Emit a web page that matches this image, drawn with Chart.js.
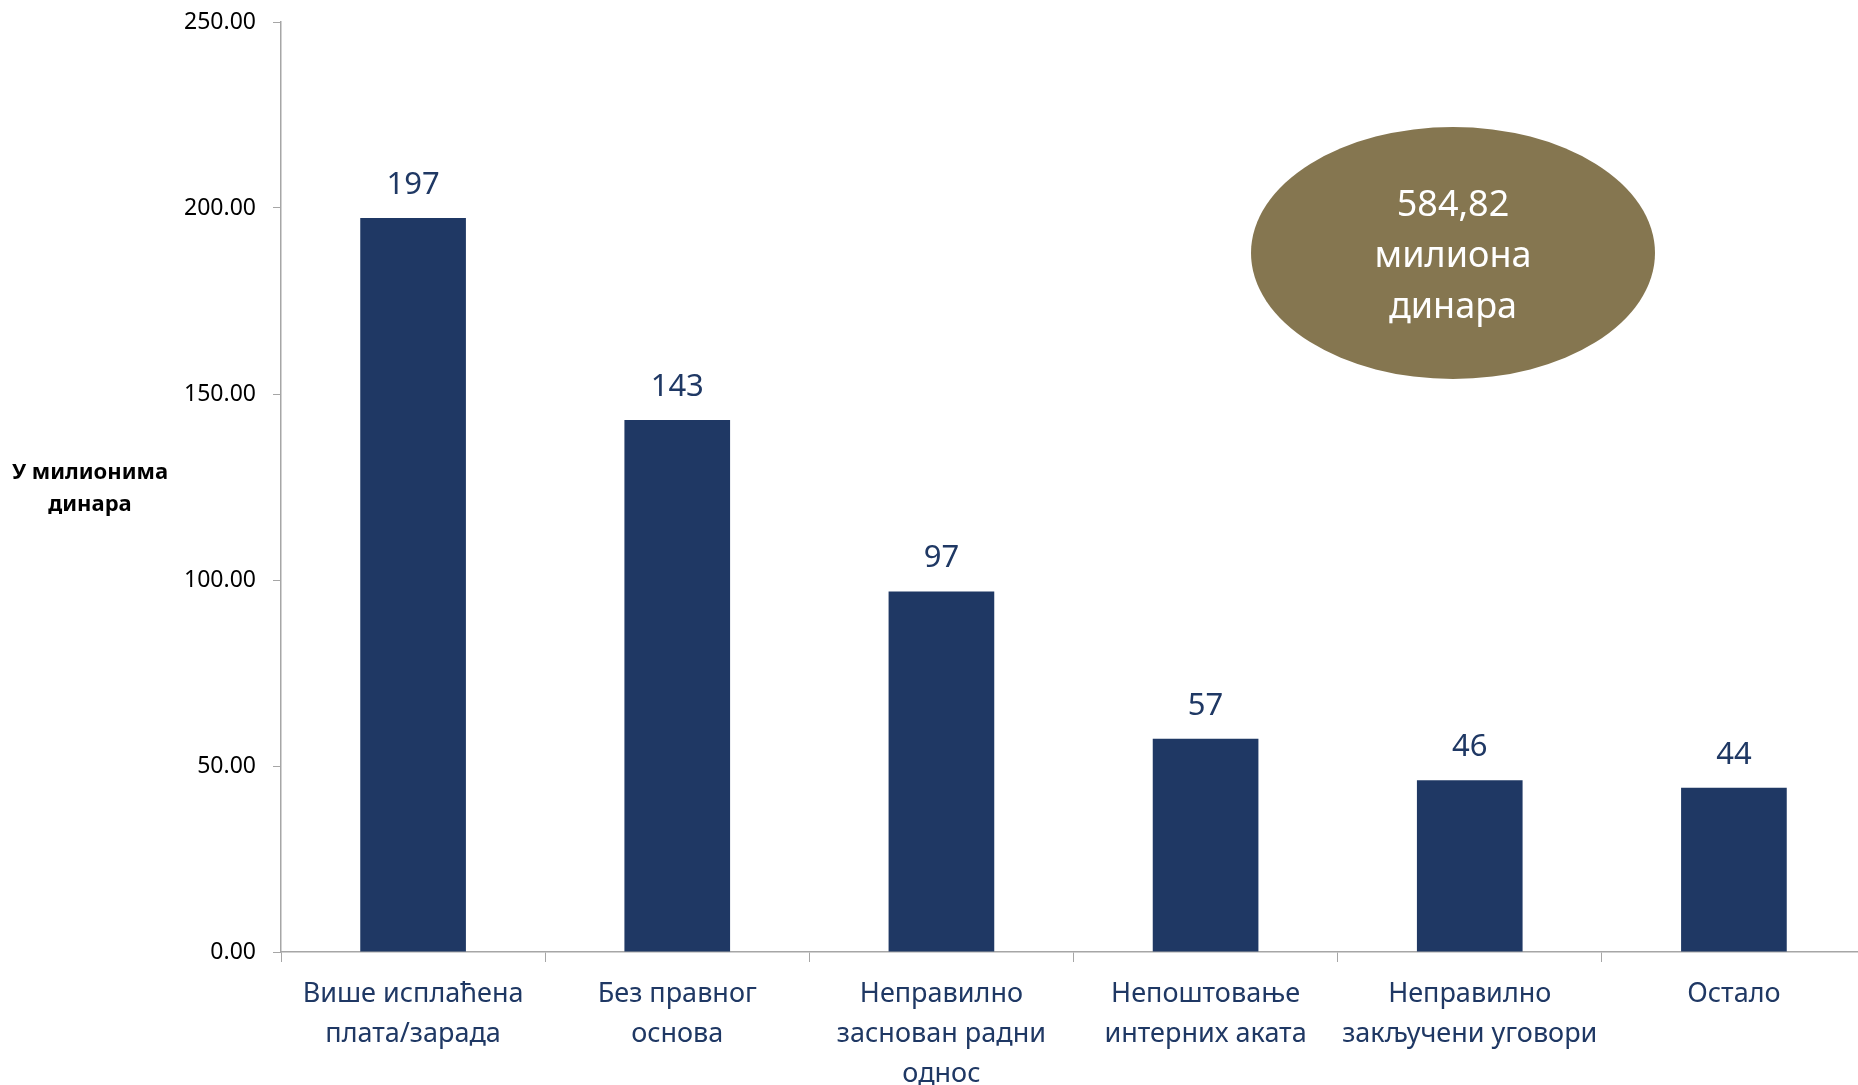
<!DOCTYPE html>
<html>
<head>
<meta charset="utf-8">
<script src="https://cdn.jsdelivr.net/npm/chart.js@4/dist/chart.umd.min.js"></script>
<style>
  html, body { margin: 0; padding: 0; background: #fff; overflow: hidden; }
  #wrap { width: 1866px; height: 1085px; }
</style>
</head>
<body>
<div id="wrap"><canvas id="myChart" width="1866" height="1085"></canvas></div>
<script>
// data
var categories = [
    ["Више исплаћена", "плата/зарада"],
    ["Без правног", "основа"],
    ["Неправилно", "заснован радни", "однос"],
    ["Непоштовање", "интерних аката"],
    ["Неправилно", "закључени уговори"],
    ["Остало"]
];
var values = [197.3, 143.0, 96.9, 57.3, 46.2, 44.12];
var valueLabels = ["197", "143", "97", "57", "46", "44"];
var yTicks = [0, 50, 100, 150, 200, 250];
var yTitle = ["У милионима", "динара"];
var totalText = ["584,82", "милиона", "динара"];

var navy = "#1F3864";
var fontName = "'Noto Sans', 'Open Sans', sans-serif";

var extras = {
    id: 'extras',
    afterDraw: function(chart){
        var ctx = chart.ctx;
        ctx.save();
        // y axis title, horizontal
        ctx.fillStyle = "#000";
        ctx.font = "bold 22px " + fontName;
        ctx.textAlign = "center";
        ctx.textBaseline = "middle";
        ctx.fillText(yTitle[0], 90, 473);
        ctx.fillText(yTitle[1], 90, 505);

        // value labels above bars
        var meta = chart.getDatasetMeta(0);
        ctx.fillStyle = navy;
        ctx.font = "31px " + fontName;
        meta.data.forEach(function(bar, i){
            ctx.fillText(valueLabels[i], bar.x, bar.y - 33);
        });

        // total bubble
        ctx.fillStyle = "#857650";
        ctx.beginPath();
        ctx.ellipse(1453, 253, 202, 126, 0, 0, Math.PI * 2);
        ctx.fill();
        ctx.fillStyle = "#fff";
        ctx.font = "36px " + fontName;
        ctx.fillText(totalText[0], 1453, 206);
        ctx.fillText(totalText[1], 1453, 257);
        ctx.fillText(totalText[2], 1453, 308);
        ctx.restore();
    }
};

new Chart(document.getElementById('myChart'), {
    type: 'bar',
    data: {
        labels: categories,
        datasets: [{
            data: values,
            backgroundColor: navy,
            borderWidth: 0,
            barPercentage: 0.8,
            categoryPercentage: 0.5
        }]
    },
    options: {
        responsive: false,
        animation: false,
        layout: { padding: { top: 22, left: 0, right: 0, bottom: 0 } },
        plugins: {
            legend: { display: false },
            tooltip: { enabled: false }
        },
        scales: {
            x: {
                grid: { drawOnChartArea: false, tickLength: 10, color: "#a6a6a6", offset: true },
                border: { color: "#a6a6a6", width: 1.5 },
                ticks: {
                    color: navy,
                    font: { family: fontName, size: 27, lineHeight: 1.48 },
                    padding: 12,
                    maxRotation: 0,
                    autoSkip: false
                },
                afterFit: function(s){ s.height = 133; }
            },
            y: {
                min: 0,
                max: 250,
                afterBuildTicks: function(s){ s.ticks = yTicks.map(function(v){ return {value: v}; }); },
                grid: { drawOnChartArea: false, tickLength: 8, color: "#a6a6a6" },
                border: { color: "#a6a6a6", width: 1.5 },
                ticks: {
                    color: "#000",
                    font: { family: fontName, size: 23 },
                    padding: 17,
                    callback: function(v){ return Number(v).toFixed(2); }
                },
                afterFit: function(s){ s.width = 281; s.paddingTop = 0; s.paddingBottom = 0; }
            }
        }
    },
    plugins: [extras]
});
</script>
</body>
</html>
